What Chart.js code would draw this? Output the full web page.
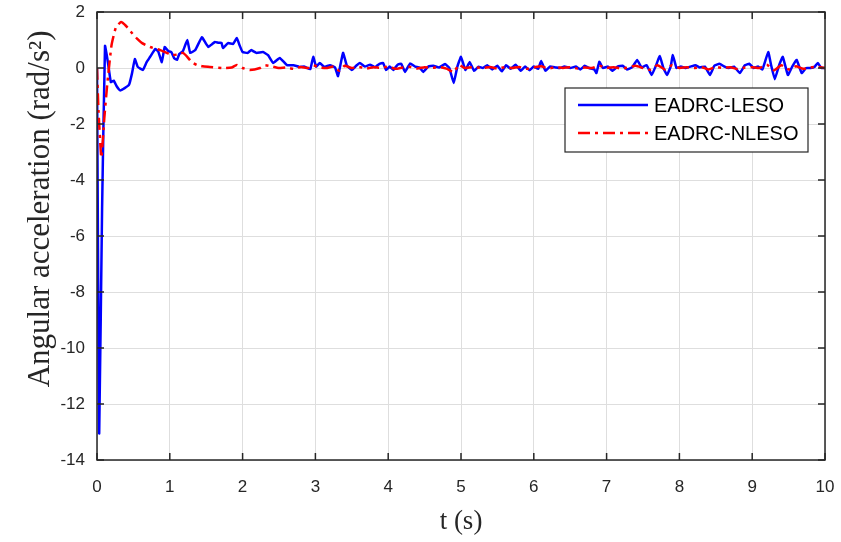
<!DOCTYPE html>
<html>
<head>
<meta charset="utf-8">
<script src="https://cdn.jsdelivr.net/npm/chart.js@4.4.1/dist/chart.umd.min.js"></script>
<style>
  body { margin: 0; background: #fff; }
  canvas { display: block; }
</style>
</head>
<body>
<canvas id="accChart" width="841" height="542"></canvas>
<script>
// EADRC-LESO (blue, solid)
const lesoT = [0, 0.03, 0.07, 0.11, 0.15, 0.19, 0.23, 0.27, 0.32, 0.38, 0.44, 0.48, 0.52, 0.56, 0.63, 0.68, 0.73, 0.8, 0.84, 0.89,
  0.93, 0.98, 1.02, 1.06, 1.1, 1.13, 1.18, 1.24, 1.28, 1.35, 1.44, 1.49, 1.53, 1.58, 1.62, 1.67, 1.71, 1.73, 1.8, 1.87,
  1.92, 1.96, 2.0, 2.07, 2.12, 2.19, 2.28, 2.35, 2.42, 2.51, 2.61, 2.7, 2.78, 2.85, 2.93, 2.97, 3.01, 3.06, 3.12, 3.2,
  3.27, 3.31, 3.38, 3.43, 3.5, 3.56, 3.61, 3.68, 3.75, 3.82, 3.88, 3.93, 3.97, 4.02, 4.07, 4.13, 4.18, 4.23, 4.3, 4.37,
  4.43, 4.48, 4.55, 4.62, 4.7, 4.78, 4.84, 4.9, 4.95, 5.0, 5.06, 5.12, 5.18, 5.24, 5.3, 5.36, 5.43, 5.5, 5.56, 5.62,
  5.68, 5.75, 5.82, 5.88, 5.94, 6.0, 6.06, 6.1, 6.16, 6.22, 6.3, 6.36, 6.42, 6.5, 6.58, 6.64, 6.7, 6.76, 6.83, 6.86,
  6.9, 6.95, 7.02, 7.08, 7.15, 7.22, 7.28, 7.35, 7.42, 7.48, 7.55, 7.62, 7.68, 7.73, 7.78, 7.83, 7.88, 7.91, 7.96, 8.02,
  8.08, 8.15, 8.22, 8.28, 8.35, 8.42, 8.48, 8.55, 8.62, 8.68, 8.75, 8.83, 8.9, 8.96, 9.02, 9.08, 9.14, 9.22, 9.26, 9.31,
  9.37, 9.42, 9.49, 9.55, 9.61, 9.68, 9.74, 9.8, 9.86, 9.9, 9.95, 10];
const lesoY = [0, -13.05, -5, 0.79, 0.2, -0.5, -0.45, -0.65, -0.8, -0.72, -0.6, -0.2, 0.32, 0.04, -0.07, 0.2, 0.4, 0.68, 0.6, 0.21,
  0.75, 0.6, 0.57, 0.35, 0.29, 0.5, 0.6, 1.0, 0.54, 0.64, 1.1, 0.9, 0.75, 0.85, 0.93, 0.9, 0.9, 0.71, 0.89, 0.86,
  1.07, 0.8, 0.57, 0.54, 0.64, 0.54, 0.57, 0.46, 0.18, 0.36, 0.1, 0.1, 0.04, 0.05, -0.04, 0.4, 0.05, 0.18, 0.04, 0.1,
  0.02, -0.29, 0.54, 0.1, -0.07, 0.08, 0.18, 0.05, 0.12, 0.03, 0.15, 0.18, -0.07, 0.05, -0.07, 0.12, 0.15, -0.14, 0.16, 0.05,
  0.02, -0.14, 0.05, 0.08, 0.02, 0.14, 0.0, -0.54, 0.05, 0.4, -0.07, 0.21, -0.1, 0.05, 0.0, 0.1, -0.05, 0.08, -0.12, 0.1,
  -0.03, 0.12, -0.1, 0.05, -0.08, 0.05, -0.03, 0.25, -0.1, 0.05, 0.02, 0.0, 0.05, 0.0, 0.05, -0.05, 0.08, 0.0, -0.05, -0.18,
  0.22, 0.0, 0.05, -0.1, 0.05, 0.08, -0.05, 0.02, 0.29, 0.02, 0.1, -0.25, 0.1, 0.43, 0.0, -0.25, 0.05, 0.46, 0.0, 0.05,
  0.0, 0.05, 0.1, 0.02, 0.05, -0.25, 0.08, 0.15, 0.05, 0.0, 0.05, -0.18, 0.1, 0.15, 0.0, 0.05, -0.05, 0.57, 0.1, -0.4,
  0.1, 0.4, -0.25, 0.05, 0.29, -0.18, 0.0, 0.0, 0.05, 0.18, 0.0, 0.0];

// EADRC-NLESO (red, dash-dot)
const nlesoT = [0, 0.02, 0.06, 0.1, 0.14, 0.2, 0.26, 0.33, 0.4, 0.48, 0.55, 0.62, 0.73, 0.87, 0.95, 1.03, 1.1, 1.18, 1.24, 1.3,
  1.37, 1.45, 1.55, 1.73, 1.85, 1.92, 2.0, 2.1, 2.24, 2.3, 2.38, 2.5, 2.6, 2.7, 2.8, 2.9, 2.97, 3.05, 3.15, 3.25,
  3.33, 3.4, 3.5, 3.6, 3.7, 3.8, 3.9, 4.0, 4.1, 4.2, 4.3, 4.4, 4.5, 4.6, 4.7, 4.8, 4.9, 4.97, 5.05, 5.15,
  5.3, 5.4, 5.5, 5.6, 5.7, 5.8, 5.9, 6.0, 6.1, 6.2, 6.3, 6.4, 6.5, 6.6, 6.7, 6.8, 6.9, 7.0, 7.1, 7.2,
  7.3, 7.4, 7.5, 7.6, 7.7, 7.8, 7.9, 8.0, 8.1, 8.2, 8.3, 8.4, 8.5, 8.6, 8.7, 8.8, 8.9, 9.0, 9.1, 9.2,
  9.3, 9.4, 9.5, 9.6, 9.7, 9.8, 9.9, 10];
const nlesoY = [0, -1.5, -3.2, -1.8, -0.6, 0.82, 1.45, 1.64, 1.5, 1.25, 1.05, 0.89, 0.75, 0.64, 0.55, 0.46, 0.48, 0.54, 0.4, 0.21,
  0.11, 0.06, 0.04, 0.0, 0.02, 0.11, 0.0, -0.07, 0.0, 0.1, 0.07, 0.0, 0.02, -0.03, 0.04, 0.0, 0.1, 0.02, 0.0, 0.05,
  -0.1, 0.08, 0.0, 0.04, -0.02, 0.03, 0.0, 0.05, -0.03, 0.02, 0.04, -0.02, 0.03, 0.0, 0.04, -0.02, -0.15, 0.12, 0.0, 0.03,
  0.0, 0.04, -0.02, 0.03, 0.0, 0.04, -0.03, 0.02, 0.06, -0.02, 0.03, 0.0, 0.03, -0.02, 0.02, 0.0, 0.08, 0.0, 0.03, -0.02,
  0.02, 0.08, 0.0, -0.06, 0.1, -0.05, 0.1, 0.0, 0.03, 0.0, 0.03, -0.05, 0.04, 0.0, 0.03, -0.04, 0.02, 0.03, 0.0, 0.12,
  -0.08, 0.1, -0.05, 0.06, -0.03, 0.02, 0.04, 0.0];

const xTicks = [0, 1, 2, 3, 4, 5, 6, 7, 8, 9, 10];
const yTicks = [2, 0, -2, -4, -6, -8, -10, -12, -14];
const seriesNames = ['EADRC-LESO', 'EADRC-NLESO'];

const toPoints = (ts, ys) => ts.map((t, i) => ({ x: t, y: ys[i] }));

// MATLAB-style box: inward ticks and a legend with a frame
const boxPlugin = {
    id: 'matlabBox',
    afterDatasetsDraw(chart) {
        const { ctx, chartArea: a, scales } = chart;
        ctx.save();
        ctx.strokeStyle = '#262626';
        ctx.lineWidth = 1.5;
        ctx.strokeRect(a.left, a.top, a.right - a.left, a.bottom - a.top);
        ctx.beginPath();
        xTicks.forEach(v => {
            const px = scales.x.getPixelForValue(v);
            ctx.moveTo(px, a.bottom); ctx.lineTo(px, a.bottom - 7);
            ctx.moveTo(px, a.top); ctx.lineTo(px, a.top + 7);
        });
        yTicks.forEach(v => {
            const py = scales.y.getPixelForValue(v);
            ctx.moveTo(a.left, py); ctx.lineTo(a.left + 7, py);
            ctx.moveTo(a.right, py); ctx.lineTo(a.right - 7, py);
        });
        ctx.stroke();

        // legend
        const lx = 565, ly = 88, lw = 243, lh = 64;
        ctx.fillStyle = '#fff';
        ctx.fillRect(lx, ly, lw, lh);
        ctx.strokeStyle = '#262626';
        ctx.lineWidth = 1.2;
        ctx.strokeRect(lx, ly, lw, lh);
        ctx.font = '20px "Liberation Sans", Arial, sans-serif';
        ctx.textBaseline = 'middle';
        chart.data.datasets.forEach((ds, i) => {
            const ry = ly + 17 + i * 28;
            ctx.strokeStyle = ds.borderColor;
            ctx.lineWidth = ds.borderWidth;
            ctx.setLineDash(ds.borderDash || []);
            ctx.beginPath();
            ctx.moveTo(578, ry); ctx.lineTo(648, ry);
            ctx.stroke();
            ctx.setLineDash([]);
            ctx.fillStyle = '#000';
            ctx.fillText(ds.label, 654, ry + 1);
        });
        ctx.restore();
    }
};

const ctx = document.getElementById('accChart').getContext('2d');
new Chart(ctx, {
    type: 'line',
    data: {
        datasets: [{
            label: seriesNames[0],
            data: toPoints(lesoT, lesoY),
            borderColor: '#0000ff',
            borderWidth: 2.5,
            pointRadius: 0,
            tension: 0.1,
            order: 2
        }, {
            label: seriesNames[1],
            data: toPoints(nlesoT, nlesoY),
            borderColor: '#ff0000',
            borderWidth: 2.5,
            borderDash: [12, 5, 3, 5],
            pointRadius: 0,
            tension: 0.15,
            order: 1
        }]
    },
    options: {
        responsive: false,
        animation: false,
        layout: { padding: { top: 12, right: 16, left: 0, bottom: 0 } },
        plugins: {
            legend: { display: false },
            tooltip: { enabled: false }
        },
        scales: {
            x: {
                type: 'linear',
                min: 0,
                max: 10,
                afterFit: s => { s.height = 82; s.paddingLeft = 0; s.paddingRight = 0; },
                afterBuildTicks: s => { s.ticks = xTicks.map(v => ({ value: v })); },
                grid: { color: '#dedede', lineWidth: 1, drawTicks: false },
                border: { display: false },
                ticks: {
                    padding: 17,
                    color: '#262626',
                    font: { family: '"Liberation Sans", Arial, sans-serif', size: 17 },
                    maxRotation: 0
                },
                title: {
                    display: true,
                    text: 't (s)',
                    color: '#262626',
                    font: { family: '"Liberation Serif", "Times New Roman", serif', size: 27 },
                    padding: { top: 4 }
                }
            },
            y: {
                min: -14,
                max: 2,
                afterFit: s => { s.width = 97; s.paddingTop = 0; s.paddingBottom = 0; },
                afterBuildTicks: s => { s.ticks = yTicks.map(v => ({ value: v })); },
                grid: { color: '#dedede', lineWidth: 1, drawTicks: false },
                border: { display: false },
                ticks: {
                    padding: 12,
                    color: '#262626',
                    font: { family: '"Liberation Sans", Arial, sans-serif', size: 17 }
                },
                title: {
                    display: true,
                    // leading no-break spaces nudge the label upward, as in the original figure
                    text: '\u00a0\u00a0\u00a0\u00a0\u00a0\u00a0\u00a0Angular acceleration (rad/s²)',
                    color: '#262626',
                    font: { family: '"Liberation Serif", "Times New Roman", serif', size: 31 },
                    padding: { top: 22, bottom: 0 }
                }
            }
        }
    },
    plugins: [boxPlugin]
});
</script>
</body>
</html>
